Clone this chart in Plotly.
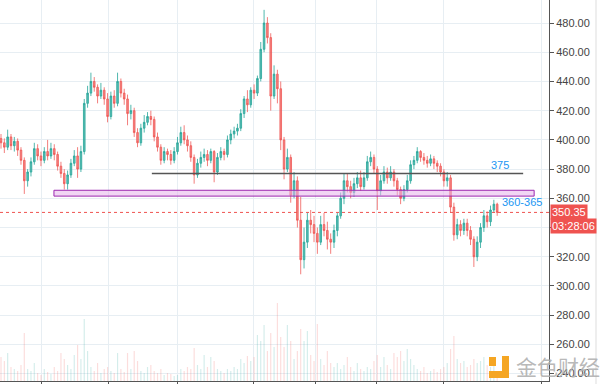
import plotly.graph_objects as go

# ---------------- data ----------------
opens = [401, 398, 395, 402, 396, 399, 393, 386, 372, 378,
         385, 394, 389, 386, 392, 389, 394, 390, 382, 377,
         370, 376, 384, 389, 380, 392, 425, 432, 440, 436,
         430, 434, 428, 416, 430, 425, 440, 432, 428, 418,
         420, 405, 398, 408, 412, 416, 414, 402, 395, 386,
         392, 390, 386, 392, 398, 405, 400, 396, 388, 376,
         384, 388, 390, 386, 392, 378, 388, 392, 390, 400,
         404, 406, 408, 418, 428, 424, 434, 432, 442, 462,
         480, 470, 430, 445, 435, 400, 380, 388, 362, 372,
         345, 318, 330, 345, 342, 336, 330, 342, 338, 332,
         330, 338, 348, 360, 372, 368, 364, 370, 374, 368,
         374, 385, 388, 380, 365, 372, 378, 374, 378, 372,
         366, 360, 366, 372, 383, 386, 392, 388, 386, 384,
         387, 384, 382, 378, 372, 374, 354, 335, 342, 338,
         343, 338, 332, 320, 330, 340, 348, 344, 352, 356]
closes = [398, 395, 402, 396, 399, 393, 386, 372, 378, 385,
          394, 389, 386, 392, 389, 394, 390, 382, 377, 370,
          376, 384, 389, 380, 392, 425, 432, 440, 436, 430,
          434, 428, 416, 430, 425, 440, 432, 428, 418, 420,
          405, 398, 408, 412, 416, 414, 402, 395, 386, 392,
          390, 386, 392, 398, 405, 400, 396, 388, 376, 384,
          388, 390, 386, 392, 378, 388, 392, 390, 400, 404,
          406, 408, 418, 428, 424, 434, 432, 442, 462, 480,
          470, 430, 445, 435, 400, 380, 388, 362, 372, 345,
          318, 330, 345, 342, 336, 330, 342, 338, 332, 330,
          338, 348, 360, 372, 368, 364, 370, 374, 368, 374,
          385, 388, 380, 365, 372, 378, 374, 378, 372, 366,
          360, 366, 372, 383, 386, 392, 388, 386, 384, 387,
          384, 382, 378, 372, 374, 354, 335, 342, 338, 343,
          338, 332, 320, 330, 340, 348, 344, 352, 356, 350.35]
highs = [404, 401, 407, 404, 402, 401, 395, 388, 380, 388,
         398, 397, 392, 395, 400, 398, 397, 392, 385, 380,
         379, 387, 393, 395, 396, 428, 437, 446, 443, 438,
         439, 436, 432, 433, 434, 446, 442, 435, 431, 424,
         422, 408, 411, 417, 419, 420, 416, 405, 397, 395,
         394, 393, 395, 402, 409, 410, 403, 399, 390, 387,
         392, 394, 393, 394, 393, 391, 395, 394, 403, 407,
         409, 411, 421, 430, 434, 436, 438, 444, 467, 489,
         484, 473, 451, 448, 440, 402, 394, 390, 378, 375,
         361, 340, 350, 352, 348, 340, 348, 350, 344, 336,
         342, 350, 364, 377, 377, 372, 374, 378, 379, 378,
         389, 392, 390, 382, 376, 382, 381, 382, 380, 374,
         368, 369, 376, 386, 389, 395, 393, 391, 389, 390,
         389, 386, 384, 380, 378, 376, 357, 346, 345, 346,
         346, 341, 334, 334, 343, 352, 351, 355, 359, 357]
lows = [394, 391, 393, 393, 392, 389, 383, 363, 368, 375,
        383, 386, 382, 384, 386, 387, 386, 379, 374, 366,
        366, 374, 382, 374, 378, 390, 422, 430, 433, 425,
        428, 424, 412, 414, 422, 423, 429, 424, 410, 414,
        402, 395, 396, 405, 410, 410, 399, 392, 383, 384,
        386, 383, 384, 390, 396, 397, 392, 385, 370, 374,
        381, 385, 382, 384, 371, 376, 386, 386, 388, 397,
        401, 403, 406, 415, 419, 422, 428, 430, 440, 460,
        466, 420, 428, 425, 393, 373, 378, 357, 360, 340,
        308, 312, 326, 336, 330, 322, 328, 334, 325, 322,
        326, 334, 346, 356, 364, 360, 361, 367, 365, 366,
        372, 382, 377, 352, 362, 370, 370, 372, 368, 362,
        356, 358, 364, 370, 380, 384, 385, 383, 381, 382,
        380, 378, 375, 368, 368, 350, 331, 332, 334, 335,
        334, 328, 313, 317, 326, 337, 340, 341, 350, 348]
volumes = [24, 20, 28, 14, 12, 10, 16, 48, 12, 10,
           18, 8, 6, 12, 9, 7, 14, 10, 28, 22,
           16, 12, 26, 36, 22, 62, 30, 14, 10, 18,
           8, 12, 14, 10, 8, 28, 12, 9, 28, 12,
           30, 20, 10, 8, 14, 16, 10, 8, 12, 6,
           8, 7, 5, 6, 12, 10, 14, 12, 33, 16,
           12, 26, 14, 24, 20, 12, 10, 8, 12, 10,
           14, 12, 22, 18, 25, 20, 24, 46, 40, 56,
           30, 48, 34, 78, 44, 34, 56, 40, 22, 30,
           52, 40, 50, 26, 20, 57, 22, 16, 30, 18,
           14, 18, 12, 16, 24, 14, 10, 18, 12, 10,
           14, 12, 20, 26, 14, 24, 16, 12, 28, 24,
           30, 20, 32, 22, 16, 12, 10, 14, 8, 10,
           12, 9, 12, 14, 18, 32, 45, 22, 18, 20,
           14, 16, 22, 18, 20, 24, 16, 14, 18, 10]
bars = list(range(len(closes)))

resistance_level = 377          # black line labelled "375"
resistance_label = "375"
zone_low, zone_high = 361.5, 365.5  # purple zone labelled "360-365"
zone_label = "360-365"
last_price = closes[-1]
countdown = "03:28:06"
price_ticks = [240, 260, 280, 300, 320, 340, 360, 380, 400, 420, 440, 460, 480]
price_labels = ["240.00", "260.00", "280.00", "300.00", "320.00", "",
                "360.00", "380.00", "400.00", "420.00", "440.00", "460.00", "480.00"]
time_ticks = [12.3, 32.4, 52.9, 75.7, 94.3, 112.9, 133.0, 162.2]

DOWN = "#ef5350"

vol_colors = ["rgba(38,166,154,0.2)" if c >= o else "rgba(239,83,80,0.2)"
              for o, c in zip(opens, closes)]

fig = go.Figure()
fig.add_trace(go.Bar(x=bars, y=volumes, marker_color=vol_colors,
                     marker_line_width=0, width=0.35, yaxis="y2",
                     hoverinfo="skip", showlegend=False))
fig.add_trace(go.Candlestick(
    x=bars, open=opens, high=highs, low=lows, close=closes,
    increasing=dict(line=dict(color="rgba(38,166,154,0.8)", width=1),
                    fillcolor="rgba(38,166,154,0.75)"),
    decreasing=dict(line=dict(color="rgba(239,83,80,0.75)", width=1),
                    fillcolor="rgba(239,83,80,0.7)"),
    whiskerwidth=0, showlegend=False))

x0, x1 = -0.3, 164.56
grid = "#e7eef3"
fig.update_layout(
    width=600, height=384,
    margin=dict(l=0, r=51, t=0, b=3),
    paper_bgcolor="white", plot_bgcolor="white",
    showlegend=False,
    xaxis=dict(range=[x0, x1], rangeslider=dict(visible=False),
               tickvals=time_ticks, showticklabels=False,
               ticks="outside", ticklen=4, tickcolor="#555",
               showgrid=True, gridcolor=grid, gridwidth=1,
               showline=True, linecolor="#555", linewidth=1,
               zeroline=False, fixedrange=True),
    yaxis=dict(range=[234.96, 495.74], side="right",
               tickvals=price_ticks, ticktext=price_labels,
               ticks="outside", ticklen=4, tickcolor="#555",
               tickfont=dict(family="Liberation Sans", size=11, color="#444"),
               showgrid=True, gridcolor=grid, gridwidth=1,
               showline=True, linecolor="#555", linewidth=1,
               zeroline=False),
    yaxis2=dict(range=[0, 381], overlaying="y", visible=False,
                showgrid=False, zeroline=False),
)

shapes = []
# purple zone
shapes.append(dict(type="rect", xref="x", yref="y", x0=15.9, x1=160.1,
                   y0=zone_low, y1=zone_high,
                   fillcolor="rgba(230,180,235,0.55)",
                   line=dict(color="#9c27b0", width=1), layer="above"))
# black resistance line
shapes.append(dict(type="line", xref="x", yref="y", x0=45.3, x1=156.8,
                   y0=resistance_level, y1=resistance_level,
                   line=dict(color="#555555", width=1.5), layer="above"))
# last price dotted line
shapes.append(dict(type="line", xref="paper", yref="y", x0=0, x1=1,
                   y0=last_price, y1=last_price,
                   line=dict(color="#ef5350", width=1, dash="dot"), layer="above"))
# right panel border
shapes.append(dict(type="line", xref="paper", yref="paper", x0=596/549, x1=596/549,
                   y0=-0.01, y1=1.01, line=dict(color="#dddddd", width=1)))
# watermark logo
orange = "#f5a623"
def px_rect(xa, xb, ya, yb):
    return dict(type="rect", xref="paper", yref="paper",
                x0=xa/549, x1=xb/549, y0=(381-yb)/381, y1=(381-ya)/381,
                fillcolor=orange, line=dict(width=0), layer="above")
shapes.append(px_rect(489, 496, 357, 366))
shapes.append(px_rect(502, 509, 356, 378))
shapes.append(px_rect(489, 509, 371, 378))
fig.update_layout(shapes=shapes)

ann = []
ann.append(dict(x=149.9, y=382.8, xref="x", yref="y", text=resistance_label,
                showarrow=False, font=dict(family="Liberation Sans", size=11, color="#2196f3")))
ann.append(dict(x=156.5, y=357.6, xref="x", yref="y", text=zone_label,
                showarrow=False, font=dict(family="Liberation Sans", size=11, color="#2196f3")))
ann.append(dict(x=1, y=last_price, xref="paper", yref="y", xanchor="left",
                text=f"{last_price:.2f}", showarrow=False, bgcolor=DOWN,
                borderpad=1, xshift=1,
                font=dict(family="Liberation Sans", size=11, color="white")))
ann.append(dict(x=1, y=last_price, xref="paper", yref="y", xanchor="left",
                text=countdown, showarrow=False, bgcolor=DOWN,
                borderpad=1, xshift=1, yshift=-14,
                font=dict(family="Liberation Sans", size=11, color="white")))
ann.append(dict(x=514/549, y=(381-366)/381, xref="paper", yref="paper",
                xanchor="left", yanchor="middle", text="金色财经", showarrow=False,
                font=dict(family="Noto Sans CJK SC", size=21, color="rgba(175,175,175,0.9)")))
fig.update_layout(annotations=ann)

fig.write_html("out.html", config={"displayModeBar": False},
               post_script="document.body.style.margin='0px';document.body.style.overflow='hidden';")
